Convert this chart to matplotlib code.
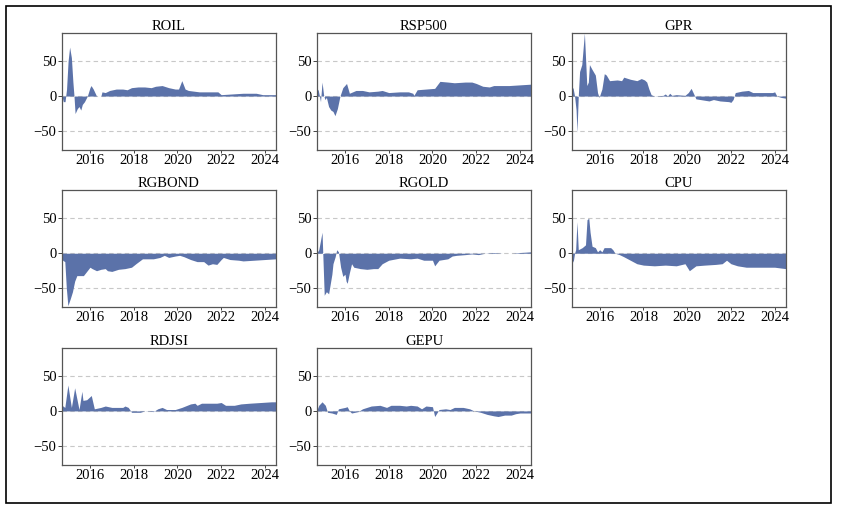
"""
Time-varying connectedness panels (net spillover by variable).
"""

import matplotlib

matplotlib.use("Agg")
import matplotlib.pyplot as plt
from matplotlib.patches import Rectangle

plt.rcParams["font.family"] = ["Liberation Serif", "DejaVu Serif"]

FILL = "#5b72a9"

# --- data (decimal year, value) ---
roil_t = [2014.72, 2014.78, 2014.86, 2014.93, 2015.0, 2015.07, 2015.15, 2015.22, 2015.27,
          2015.32, 2015.42, 2015.5, 2015.58, 2015.65, 2015.75, 2015.88, 2016.0, 2016.05,
          2016.15, 2016.3, 2016.5, 2016.55, 2016.7, 2016.9, 2017.2, 2017.5, 2017.7,
          2017.9, 2018.2, 2018.5, 2018.8, 2019.0, 2019.3, 2019.6, 2019.9, 2020.05,
          2020.2, 2020.35, 2020.5, 2021.0, 2021.5, 2021.85, 2022.0, 2022.5, 2023.0,
          2023.6, 2023.9, 2024.5]
roil_v = [0, -8, -8, 10, 50, 70, 55, 20, 0, -25, -18, -15, -20, -12, -8, 0, 12, 15,
          10, 0, 0, 6, 5, 8, 10, 10, 9, 12, 13, 13, 12, 14, 15, 12, 10, 10,
          22, 10, 8, 6, 6, 6, 2, 3, 4, 4, 2, 2]

rsp_t = [2014.7, 2014.78, 2014.88, 2014.95, 2015.02, 2015.08, 2015.15, 2015.25, 2015.35,
         2015.45, 2015.54, 2015.65, 2015.77, 2015.9, 2016.07, 2016.2, 2016.5, 2016.8,
         2017.1, 2017.5, 2017.7, 2018.0, 2018.5, 2018.9, 2019.1, 2019.15, 2019.3,
         2019.7, 2020.1, 2020.34, 2020.7, 2021.0, 2021.5, 2021.8, 2022.0, 2022.3,
         2022.6, 2022.8, 2023.5, 2024.0, 2024.5]
rsp_v = [12, 8, -8, 20, 2, -5, -2, -15, -20, -22, -28, -18, 0, 12, 18, 4, 8, 8,
         6, 7, 8, 5, 6, 6, 4, 1, 9, 10, 11, 21, 20, 19, 20, 20, 18, 14,
         13, 15, 15, 16, 17]

gpr_t = [2014.72, 2014.78, 2014.85, 2014.92, 2014.96, 2015.02, 2015.08, 2015.18, 2015.3,
         2015.41, 2015.48, 2015.53, 2015.65, 2015.8, 2015.9, 2015.97, 2016.1, 2016.21,
         2016.3, 2016.45, 2016.8, 2017.0, 2017.1, 2017.4, 2017.7, 2017.9, 2018.05,
         2018.15, 2018.25, 2018.35, 2018.5, 2018.9, 2019.0, 2019.1, 2019.2, 2019.3,
         2019.5, 2019.9, 2020.05, 2020.18, 2020.3, 2020.4, 2020.8, 2021.0, 2021.2,
         2021.5, 2021.9, 2022.0, 2022.1, 2022.2, 2022.5, 2022.8, 2023.0, 2023.9,
         2024.0, 2024.1, 2024.3, 2024.5]
gpr_v = [10, 12, 0, -20, -52, 0, 35, 45, 90, 15, 20, 45, 38, 30, 5, -2, 10, 32,
         30, 22, 23, 22, 27, 24, 22, 25, 23, 20, 10, 2, 0, 1, 3, 0, 4, 1,
         2, 1, 5, 11, 3, -4, -6, -7, -5, -7, -8, -9, -5, 5, 7, 8, 5, 5,
         6, 0, -2, -3]

rgbond_t = [2014.72, 2014.75, 2014.85, 2014.92, 2014.99, 2015.1, 2015.2, 2015.3, 2015.4,
            2015.7, 2015.8, 2016.0, 2016.1, 2016.3, 2016.5, 2016.7, 2016.8, 2017.0,
            2017.3, 2017.6, 2017.9, 2018.1, 2018.4, 2018.9, 2019.2, 2019.4, 2019.6,
            2019.9, 2020.1, 2020.3, 2020.6, 2020.9, 2021.2, 2021.4, 2021.6, 2021.8,
            2022.0, 2022.1, 2022.4, 2022.8, 2023.0, 2023.5, 2024.0, 2024.5]
rgbond_v = [0, -10, -12, -50, -75, -65, -55, -40, -32, -32, -28, -20, -22, -25, -23,
            -22, -25, -26, -23, -22, -20, -15, -8, -8, -6, -3, -6, -4, -3, -5, -9,
            -12, -12, -17, -15, -16, -9, -6, -9, -10, -11, -10, -9, -8]

rgold_t = [2014.7, 2014.8, 2014.95, 2015.05, 2015.15, 2015.25, 2015.4, 2015.45, 2015.55,
           2015.62, 2015.7, 2015.8, 2015.9, 2016.0, 2016.05, 2016.1, 2016.2, 2016.3,
           2016.4, 2016.7, 2017.0, 2017.3, 2017.5, 2017.7, 2018.0, 2018.5, 2019.0,
           2019.3, 2019.6, 2020.0, 2020.1, 2020.3, 2020.7, 2020.9, 2021.1, 2021.5,
           2021.8, 2022.1, 2022.4, 2022.8, 2023.2, 2023.6, 2024.0, 2024.5]
rgold_v = [0, 5, 30, -60, -55, -58, -30, -15, -5, 5, 2, -20, -33, -30, -40, -43,
           -28, -15, -20, -22, -23, -22, -22, -15, -10, -7, -8, -7, -10, -10, -18,
           -10, -8, -4, -3, -2, -1, -2, 0, 1, 0, 0, 1, 2]

cpu_t = [2014.72, 2014.8, 2014.85, 2014.9, 2014.96, 2015.02, 2015.2, 2015.35, 2015.42,
         2015.5, 2015.56, 2015.65, 2015.8, 2015.9, 2016.0, 2016.1, 2016.2, 2016.5,
         2016.6, 2016.7, 2016.9, 2017.1, 2017.4, 2017.7, 2018.0, 2018.5, 2019.0,
         2019.5, 2019.9, 2020.1, 2020.4, 2020.8, 2021.3, 2021.6, 2021.8, 2022.0,
         2022.3, 2022.7, 2023.5, 2024.0, 2024.5]
cpu_v = [-15, -10, 0, 5, 45, 5, 8, 12, 48, 50, 30, 10, 8, 2, 5, 2, 8, 8,
         5, 0, -2, -5, -10, -15, -17, -18, -17, -18, -15, -25, -18, -17, -16, -15,
         -10, -15, -18, -20, -20, -20, -22]

rdjsi_t = [2014.72, 2014.85, 2014.99, 2015.15, 2015.3, 2015.5, 2015.63, 2015.68, 2015.85,
           2016.06, 2016.2, 2016.5, 2016.7, 2017.0, 2017.5, 2017.6, 2017.75, 2017.9,
           2018.3, 2018.5, 2018.9, 2019.1, 2019.3, 2019.5, 2019.9, 2020.2, 2020.6,
           2020.8, 2020.9, 2021.1, 2021.8, 2022.0, 2022.2, 2022.6, 2022.9, 2023.3,
           2023.8, 2024.3, 2024.5]
rdjsi_v = [8, 5, 37, 5, 33, 2, 28, 15, 16, 22, 3, 5, 7, 5, 5, 7, 5, -2, -2, 0,
           -1, 3, 5, 2, 2, 5, 10, 11, 8, 11, 11, 12, 8, 8, 10, 11, 12, 13, 13]

gepu_t = [2014.7, 2014.8, 2014.95, 2015.1, 2015.2, 2015.4, 2015.6, 2015.7, 2016.0,
          2016.1, 2016.2, 2016.3, 2016.6, 2016.8, 2017.2, 2017.6, 2017.9, 2018.1,
          2018.5, 2018.8, 2019.0, 2019.3, 2019.5, 2019.7, 2020.0, 2020.1, 2020.3,
          2020.6, 2020.8, 2021.0, 2021.4, 2021.7, 2021.9, 2022.2, 2022.5, 2022.8,
          2023.0, 2023.3, 2023.6, 2023.8, 2024.0, 2024.5]
gepu_v = [0, 8, 13, 8, -2, -3, -5, 3, 5, 6, 0, -3, -1, 3, 7, 8, 5, 8, 8, 7,
          8, 7, 3, 7, 6, -8, 2, 3, 2, 5, 5, 3, 0, -2, -5, -7, -8, -6, -6, -4,
          -3, -3]

titles = ["ROIL", "RSP500", "GPR", "RGBOND", "RGOLD", "CPU", "RDJSI", "GEPU"]
series = [(roil_t, roil_v), (rsp_t, rsp_v), (gpr_t, gpr_v), (rgbond_t, rgbond_v),
          (rgold_t, rgold_v), (cpu_t, cpu_v), (rdjsi_t, rdjsi_v), (gepu_t, gepu_v)]

year_ticks = [2016, 2018, 2020, 2022, 2024]
y_ticks = [-50, 0, 50]


def main() -> None:
    fig = plt.figure(figsize=(8.42, 5.17), dpi=100)

    lefts = [0.0736, 0.3765, 0.679]
    bottoms = [0.710, 0.406, 0.101]
    w, h = 0.254, 0.226

    for i, (name, (t, v)) in enumerate(zip(titles, series)):
        r, c = divmod(i, 3)
        ax = fig.add_axes([lefts[c], bottoms[r], w, h])
        ax.set_axisbelow(True)
        ax.grid(axis="y", color="#c8c8c8", linestyle=(0, (4, 3)), linewidth=0.8)
        ax.fill_between(t, 0, v, color=FILL, linewidth=0)
        ax.set_xlim(2014.72, 2024.5)
        ax.set_ylim(-77, 90)
        ax.set_xticks(year_ticks)
        ax.set_yticks(y_ticks)
        ax.set_yticklabels(["\u221250", "0", "50"])
        ax.tick_params(axis="y", labelsize=10.5, length=3, width=0.7, color="#444444", pad=1)
        ax.tick_params(axis="x", labelsize=10.5, length=2, width=0.7, color="#444444", pad=1)
        for sp in ax.spines.values():
            sp.set_color("#555555")
            sp.set_linewidth(0.9)
        ax.set_title(name, fontsize=10.5, pad=2)

    fig.patches.append(Rectangle((0.0071, 0.027), 0.980, 0.961, transform=fig.transFigure,
                                 fill=False, edgecolor="black", linewidth=1.2))

    fig.savefig("out.png", dpi=100)
    plt.close(fig)


if __name__ == "__main__":
    main()
